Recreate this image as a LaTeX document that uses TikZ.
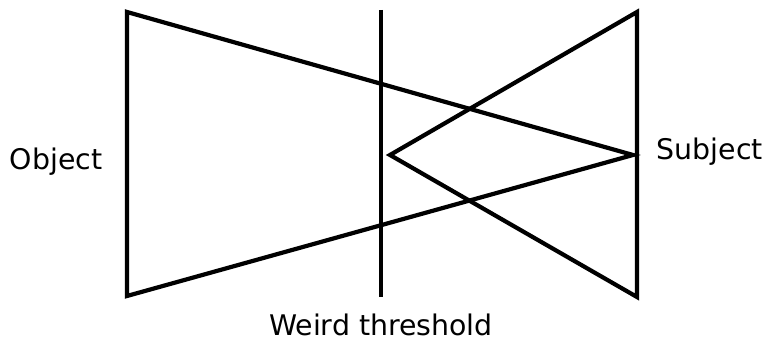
\documentclass[tikz,border=0pt]{standalone}
\usepackage{fontspec}
\setmainfont{DejaVu Sans}

\begin{document}
\begin{tikzpicture}[x=0.5pt, y=-0.5pt, line width=2.1pt,
  every node/.style={font=\fontsize{14.2}{17}\selectfont},
  wedge/.style={draw, line join=miter}]
  \useasboundingbox (0,0) rectangle (768,340);

  % Corner points
  \coordinate (objTop) at (127,12);
  \coordinate (objBot) at (127,296);
  \coordinate (objTip) at (633,155);
  \coordinate (subTop) at (637,12);
  \coordinate (subBot) at (637,297);
  \coordinate (subTip) at (390,155);
  \coordinate (thrTop) at (381,10);
  \coordinate (thrBot) at (381,297);

  % The two wedges
  \draw[wedge] (objTip) -- (objTop) -- (objBot) -- cycle;
  \draw[wedge] (subTip) -- (subTop) -- (subBot) -- cycle;

  % Threshold line
  \draw (thrTop) -- (thrBot);

  % Labels
  \node (object) at (56,162) {Object};
  \node (subject) at (710,152) {Subject};
  \node (threshold) at (381,325) {Weird threshold};
\end{tikzpicture}
\end{document}
